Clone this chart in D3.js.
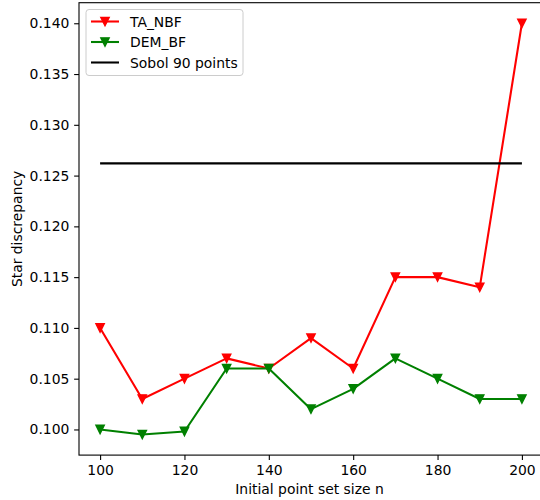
<!DOCTYPE html>
<html><head><meta charset="utf-8">
<script src="https://cdn.jsdelivr.net/npm/d3@7/dist/d3.min.js"></script>
<style>body{margin:0;background:#fff}svg{display:block}text{font-family:"DejaVu Sans",sans-serif}</style>
</head><body>
<svg id="c" width="540" height="500"></svg>
<script>
const nValues = [100,110,120,130,140,150,160,170,180,190,200];
const taNbf = [0.110,0.103,0.105,0.107,0.106,0.109,0.106,0.115,0.115,0.114,0.140];
const demBf = [0.100,0.0995,0.0998,0.106,0.106,0.102,0.104,0.107,0.105,0.103,0.103];
const sobol90 = 0.1262;
const xTicks = [100,120,140,160,180,200];
const yTicks = [0.100,0.105,0.110,0.115,0.120,0.125,0.130,0.135,0.140];
const seriesNames = ["TA_NBF","DEM_BF","Sobol 90 points"];

const svg = d3.select("#c");
const L=79, R=543, T=2.7, B=455.1;
const x = d3.scaleLinear().domain([95,205]).range([L,R]);
const y = d3.scaleLinear().domain([0.097475,0.142025]).range([B,T]);
const fs = "13.9px";

const gx = svg.append("g").attr("transform",`translate(0,${B})`)
  .call(d3.axisBottom(x).tickValues(xTicks).tickSize(4.86).tickPadding(4.8).tickFormat(d3.format("d")));
const gy = svg.append("g").attr("transform",`translate(${L},0)`)
  .call(d3.axisLeft(y).tickValues(yTicks).tickSize(4.86).tickPadding(4.8).tickFormat(d3.format(".3f")));
[gx,gy].forEach(g=>{
  g.select(".domain").remove();
  g.selectAll("line").attr("stroke","#000").attr("stroke-width",1.1);
  g.selectAll("text").attr("font-size",fs).attr("fill","#000").attr("font-family","DejaVu Sans");
});
svg.append("rect").attr("x",L).attr("y",T).attr("width",R-L).attr("height",B-T)
  .attr("fill","none").attr("stroke","#000").attr("stroke-width",1.1);

const line = d3.line().x((d,i)=>x(nValues[i])).y(d=>y(d));
const h = 4.17;
const triDown = `M0,${h}L${-h},${-h}L${h},${-h}Z`;

function series(vals,color){
  svg.append("path").datum(vals).attr("d",line).attr("fill","none")
    .attr("stroke",color).attr("stroke-width",2.08).attr("stroke-linejoin","round");
  svg.append("g").selectAll("path").data(vals).join("path")
    .attr("d",triDown).attr("fill",color).attr("stroke",color).attr("stroke-width",1.39)
    .attr("stroke-linejoin","miter")
    .attr("transform",(d,i)=>`translate(${x(nValues[i])},${y(d)})`);
}
series(taNbf,"#ff0000");
series(demBf,"#008000");
svg.append("line").attr("x1",x(100)).attr("x2",x(200)).attr("y1",y(sobol90)).attr("y2",y(sobol90))
  .attr("stroke","#000").attr("stroke-width",2.08);

svg.append("text").attr("x",(L+R)/2 - 1.5).attr("y",494).attr("text-anchor","middle")
  .attr("font-size",fs).text("Initial point set size n");
svg.append("text").attr("transform",`translate(22,${(T+B)/2}) rotate(-90)`).attr("text-anchor","middle")
  .attr("font-size",fs).text("Star discrepancy");

const lg = svg.append("g");
lg.append("rect").attr("x",86).attr("y",9.5).attr("width",157).attr("height",66).attr("rx",3)
  .attr("fill","#fff").attr("fill-opacity",0.8).attr("stroke","#ccc").attr("stroke-width",1);
const colors = ["#ff0000","#008000","#000"];
seriesNames.forEach((name,i)=>{
  const yy = 21.5 + i*20.5;
  lg.append("line").attr("x1",91).attr("x2",119).attr("y1",yy).attr("y2",yy)
    .attr("stroke",colors[i]).attr("stroke-width",2.08);
  if(i<2) lg.append("path").attr("d",triDown).attr("fill",colors[i]).attr("stroke",colors[i])
    .attr("stroke-width",1.39).attr("transform",`translate(105,${yy})`);
  lg.append("text").attr("x",130).attr("y",yy+5).attr("font-size",fs).text(name);
});
</script>
</body></html>
